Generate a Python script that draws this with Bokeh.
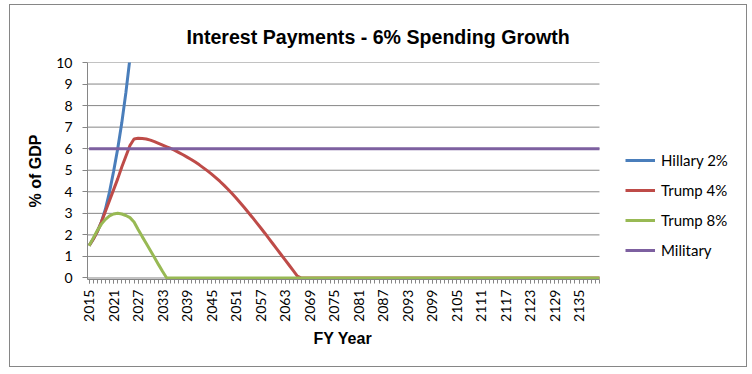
import math
from bokeh.plotting import figure
from bokeh.models import FixedTicker, Legend, LegendItem, Title
from bokeh.embed import file_html
from bokeh.resources import INLINE

# ---------------- data ----------------
years = list(range(2015, 2141))

hillary_years = list(range(2015, 2027))
hillary = [1.50, 1.80, 2.15, 2.60, 3.20, 4.00, 4.95, 6.00, 7.20, 8.60, 10.20, 12.00]

trump4 = [1.50, 1.80, 2.15, 2.60, 3.10, 3.60, 4.10, 4.60, 5.15, 5.65,
          6.15, 6.45, 6.48, 6.47, 6.45, 6.40, 6.33, 6.25, 6.17, 6.09,
          6.01, 5.92, 5.82, 5.72, 5.61, 5.50, 5.38, 5.25, 5.11, 4.97,
          4.82, 4.66, 4.49, 4.31, 4.12, 3.92, 3.71, 3.49, 3.27, 3.04,
          2.81, 2.57, 2.33, 2.09, 1.84, 1.59, 1.34, 1.09, 0.84, 0.59,
          0.34, 0.09] + [0.0] * 74   # stays at 0 from 2067 to 2140

trump8 = [1.50, 1.85, 2.20, 2.50, 2.72, 2.88, 2.97, 3.00, 2.97, 2.90,
          2.80, 2.60, 2.25, 1.92, 1.60, 1.28, 0.95, 0.62, 0.30] + [0.0] * 107  # 0 from 2034

military = [6.0] * 126

tick_years = [2015, 2021, 2027, 2033, 2039, 2045, 2051, 2057, 2063, 2069,
              2075, 2081, 2087, 2093, 2099, 2105, 2111, 2117, 2123, 2129, 2135]
y_ticks = [0, 1, 2, 3, 4, 5, 6, 7, 8, 9, 10]

series_names = ["Hillary 2%", "Trump 4%", "Trump 8%", "Military"]
series_colors = ["#4A7EBB", "#BE4B48", "#98B954", "#7D60A0"]

# ---------------- figure ----------------
GRAY = "#868686"
X_START = 2014.6
X_END = years[-1]
# the frame is extended to the right so the legend can sit inside it
p = figure(width=738, height=363, output_backend="svg", toolbar_location=None,
           x_range=(X_START, 2176.5), y_range=(-0.07, 10),
           min_border_left=77, min_border_right=0,
           min_border_top=57, min_border_bottom=89)
p.outline_line_color = None
p.styles = {"border": "1px solid #868686", "margin-left": "9px", "margin-top": "4px"}

p.title.text = "Interest Payments - 6% Spending Growth"
p.title.text_font = "Liberation Sans"
p.title.text_font_style = "bold"
p.title.text_font_size = "19.6px"
p.title.text_color = "#000000"
p.title.align = "left"
p.title.vertical_align = "top"
p.title.offset = 99
p.title.standoff = 26

# horizontal grid lines limited to the data area
p.xgrid.visible = False
p.ygrid.visible = False
p.segment(x0=[X_START] * len(y_ticks), x1=[X_END] * len(y_ticks),
          y0=y_ticks, y1=y_ticks, line_color=GRAY, line_width=1)

# y axis
p.yaxis.ticker = FixedTicker(ticks=y_ticks)
p.yaxis.axis_line_color = GRAY
p.yaxis.major_tick_line_color = GRAY
p.yaxis.major_tick_out = 5
p.yaxis.major_tick_in = 0
p.yaxis.minor_tick_line_color = None
p.yaxis.major_label_standoff = 10
p.yaxis.major_label_text_font = "Lato"
p.yaxis.major_label_text_font_size = "14px"
p.yaxis.major_label_text_color = "#000000"
p.yaxis.axis_label = "% of GDP"
p.yaxis.axis_label_text_font = "Liberation Sans"
p.yaxis.axis_label_text_font_style = "bold"
p.yaxis.axis_label_text_font_size = "16px"
p.yaxis.axis_label_text_color = "#000000"
p.yaxis.axis_label_standoff = 9

# x axis
p.xaxis.bounds = (X_START, X_END)
p.xaxis.ticker = FixedTicker(ticks=tick_years, minor_ticks=years)
p.xaxis.major_label_overrides = {t: str(t) for t in tick_years}
p.xaxis.axis_line_color = GRAY
p.xaxis.major_tick_line_color = GRAY
p.xaxis.minor_tick_line_color = GRAY
p.xaxis.major_tick_out = 4
p.xaxis.major_tick_in = 0
p.xaxis.minor_tick_out = 4
p.xaxis.minor_tick_in = 0
p.xaxis.major_label_orientation = math.pi / 2
p.xaxis.major_label_standoff = 6
p.xaxis.major_label_text_font = "Lato"
p.xaxis.major_label_text_font_size = "14px"
p.xaxis.major_label_text_color = "#000000"

xlabel = Title(text="FY Year", text_font="Liberation Sans", text_font_style="bold",
               text_font_size="16px", text_color="#000000", align="left",
               offset=226, standoff=6)
p.add_layout(xlabel, "below")

# lines
r_h = p.line(hillary_years, hillary, line_color=series_colors[0], line_width=3)
r_t4 = p.line(years, trump4, line_color=series_colors[1], line_width=3)
r_t8 = p.line(years, trump8, line_color=series_colors[2], line_width=3)
r_m = p.line(years, military, line_color=series_colors[3], line_width=3)

legend = Legend(items=[LegendItem(label=series_names[0], renderers=[r_h]),
                       LegendItem(label=series_names[1], renderers=[r_t4]),
                       LegendItem(label=series_names[2], renderers=[r_t8]),
                       LegendItem(label=series_names[3], renderers=[r_m])],
                location=(538, 19), padding=0, margin=0, spacing=10,
                glyph_width=30, glyph_height=20, label_height=20,
                label_standoff=6, border_line_color=None,
                background_fill_alpha=0,
                label_text_font="Lato", label_text_font_size="15px",
                label_text_color="#000000")
p.add_layout(legend, "center")

open("out.html", "w").write(file_html(p, INLINE))
